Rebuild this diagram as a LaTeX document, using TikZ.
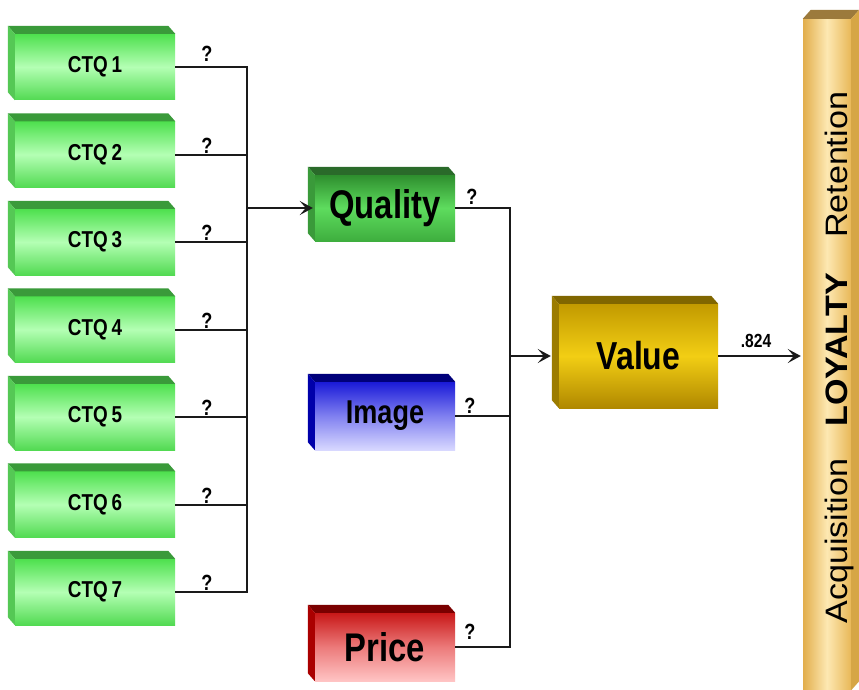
\documentclass[tikz,border=0pt]{standalone}
\usepackage{fontspec}
\setmainfont{Liberation Sans}
\newfontfamily\nb[FakeStretch=0.82]{Liberation Sans}
\newfontfamily\barfont[FakeStretch=1.1]{Liberation Sans}
\usetikzlibrary{arrows.meta,calc}
% green CTQ
\definecolor{ctqF}{HTML}{4EE04E}\definecolor{ctqM}{HTML}{B4FFB4}\definecolor{ctqB}{HTML}{52DA52}
\definecolor{ctqT}{HTML}{3A9A3A}\definecolor{ctqS}{HTML}{55C855}
% quality
\definecolor{quaF}{HTML}{2E8E2E}\definecolor{quaM}{HTML}{5EDC5E}\definecolor{quaB}{HTML}{3EAE3E}
\definecolor{quaT}{HTML}{2A6A2A}\definecolor{quaS}{HTML}{3A9A3A}
% image
\definecolor{imgF}{HTML}{1A1AD8}\definecolor{imgM}{HTML}{8080F0}\definecolor{imgB}{HTML}{D8D8FF}
\definecolor{imgT}{HTML}{00007A}\definecolor{imgS}{HTML}{0000AA}
% price
\definecolor{priF}{HTML}{C81818}\definecolor{priM}{HTML}{EC7A7A}\definecolor{priB}{HTML}{FFC4C4}
\definecolor{priT}{HTML}{7A0000}\definecolor{priS}{HTML}{AA0000}
% value
\definecolor{valF}{HTML}{C29A00}\definecolor{valM}{HTML}{F2CE14}\definecolor{valB}{HTML}{B08800}
\definecolor{valT}{HTML}{806600}\definecolor{valS}{HTML}{9C7C00}
% bar
\definecolor{barL}{HTML}{E2AE4C}\definecolor{barM}{HTML}{FDE8B2}\definecolor{barR}{HTML}{E8B858}
\definecolor{barT}{HTML}{9C7A3C}\definecolor{barS}{HTML}{D6A646}
\definecolor{lineC}{HTML}{1A1A1A}

\tikzset{
  frontface/.style={inner sep=0pt, text=black},
  ctqbox/.style={minimum width=160pt, minimum height=66pt, font=\nb\bfseries\fontsize{23}{23}\selectfont},
  midbox/.style={minimum width=140pt, minimum height=68pt},
  conn/.style={draw=lineC, line width=2pt},
  arr/.style={-{Stealth[length=13pt,width=14pt,inset=6pt]}},
  qlab/.style={font=\nb\bfseries\fontsize{22}{22}\selectfont, inner sep=0pt, anchor=south},
  bartext/.style={font=\barfont\fontsize{31}{31}\selectfont, rotate=90, anchor=base, inner sep=0pt}
}
\newcommand\bevbox[5]{%
  \node[frontface, #3, top color=#4F, bottom color=#4B, middle color=#4M] (#1) at (#2) {#5};
  \fill[#4T] (#1.north west) -- ++(-7,-8) -- ($(#1.north east)+(-7,-8)$) -- (#1.north east) -- cycle;
  \fill[#4S] (#1.north west) -- ++(-7,-8) -- ($(#1.south west)+(-7,-8)$) -- (#1.south west) -- cycle;
}

\begin{document}
\begin{tikzpicture}[x=1pt,y=-1pt]
\useasboundingbox (0,0) rectangle (859,690);
\fill[white] (0,0) rectangle (859,690);

% CTQ boxes
\foreach \i [evaluate=\i as \yy using 67+87.5*(\i-1)] in {1,...,7}{
  \bevbox{c\i}{95,\yy}{ctqbox}{ctq}{CTQ\,\i}
}
% middle boxes
\bevbox{quality}{385,208}{midbox, minimum height=66pt, font=\nb\bfseries\fontsize{40}{40}\selectfont}{qua}{Quality}
\bevbox{image}{385,416}{midbox, font=\nb\bfseries\fontsize{33}{33}\selectfont}{img}{Image}
\bevbox{price}{385,647}{midbox, font=\nb\bfseries\fontsize{40}{40}\selectfont}{pri}{Price}
\bevbox{value}{638.5,356}{minimum width=159pt, minimum height=104pt, font=\nb\bfseries\fontsize{39}{39}\selectfont}{val}{Value}

% loyalty bar
\node[inner sep=0pt, minimum width=48pt, minimum height=671pt, left color=barL, right color=barR, middle color=barM] (bar) at (827,354.5) {};
\fill[barT] (bar.north west) -- ++(8,-9) -- ($(bar.north east)+(8,-9)$) -- (bar.north east) -- cycle;
\fill[barS] (bar.north east) -- ++(8,-9) -- ($(bar.south east)+(8,-9)$) -- (bar.south east) -- cycle;
\node[bartext] (reten) at (847,165) {Retention};
\node[bartext, font=\barfont\bfseries\fontsize{31}{31}\selectfont] (loyal) at (847,350) {LOYALTY};
\node[bartext] (acq) at (847,541) {Acquisition};

% connectors
\coordinate (busA) at (247,0);
\coordinate (busB) at (510,0);
\foreach \i in {1,...,7}{
  \draw[conn] (c\i.east) -| (busA |- quality.west);
}
\draw[conn, arr, shorten >=2pt] (busA |- quality.west) -- (quality.west);
\draw[conn] (quality.east) -| (busB |- value.west);
\draw[conn] (image.east) -| (busB |- value.west);
\draw[conn] (price.east) -| (busB |- value.west);
\draw[conn, arr, shorten >=8pt] (busB |- value.west) -- (value.west);
\draw[conn, arr, shorten >=2pt] (value.east) -- (value.east -| bar.west);

% labels
\node[qlab] (q1) at (207,62) {?};
\foreach \i [evaluate=\i as \yy using 67+87.5*(\i-1)-1] in {2,...,7}{
  \node[qlab] (q\i) at (207,\yy) {?};
}
\node[qlab] (qq) at (472,205) {?};
\node[qlab] (qi) at (470,414) {?};
\node[qlab] (qp) at (470,640) {?};
\node[font=\nb\bfseries\fontsize{19}{19}\selectfont, inner sep=0pt] (v824) at (756,341) {.824};
\end{tikzpicture}
\end{document}
